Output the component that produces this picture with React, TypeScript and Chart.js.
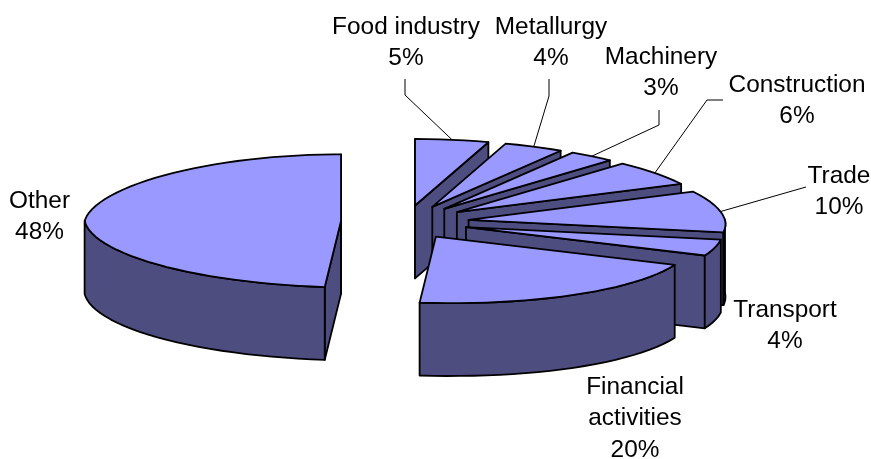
import React, { useEffect, useRef } from "react";
import { Chart, registerables } from "chart.js";

Chart.register(...registerables);

const categories = ["Food industry", "Metallurgy", "Machinery", "Construction", "Trade", "Transport", "Financial activities", "Other"];
const shares = [5, 4, 3, 6, 10, 4, 20, 48];

// label layout: wrapped lines, centre x, first line centre y, optional leader elbow
const labelLines = [["Food industry"], ["Metallurgy"], ["Machinery"], ["Construction"], ["Trade"], ["Transport"], ["Financial", "activities"], ["Other"]];
const labelX = [406, 551, 661, 797, 839, 785, 635, 39.5];
const labelY = [27, 27, 57, 85, 176, 310, 387, 201];
const leaderStart: ([number, number] | null)[] = [[405, 79], [549, 79], [659, 110], [723, 100], [806, 187], null, null, null];
const leaderElbow: ([number, number] | null)[] = [[405, 95], [549, 96], [659, 125], [707, 100], null, null, null, null];

const TOP = "#9999FF";
const WALL = "#4D4D80";
const RX = 1.155; // horizontal ellipse radius / chart radius
const RY = 0.3; // vertical ellipse radius / chart radius
const DEPTH = 0.328; // extrusion / chart radius
const EXPLODE = 0.25;
const STEP = Math.PI / 60;
const FAR_SHRINK = 0.078; // perspective narrowing of the far half
const NEAR_SKEW = 0.072; // sideways lean of the near half / chart radius

const rimX = (t: number, R: number) => {
  const cos = Math.cos(t);
  return R * RX * Math.sin(t) * (1 - FAR_SHRINK * Math.max(0, cos)) + R * NEAR_SKEW * Math.max(0, -cos);
};
const rimY = (t: number, R: number) => -R * RY * Math.cos(t);

const pie3d = {
  id: "pie3d",
  beforeDatasetsDraw(chart: any) {
    const c = chart.ctx;
    const arcs = chart.getDatasetMeta(0).data;
    c.save();
    c.lineWidth = 1.8;
    c.lineJoin = "round";
    c.strokeStyle = "#000";
    arcs.forEach((a: any) => {
      const s = a.startAngle + Math.PI / 2;
      const e = a.endAngle + Math.PI / 2;
      const m = (s + e) / 2;
      const R = a.outerRadius;
      const d = R * DEPTH;
      const ax = a.x + EXPLODE * R * RX * Math.sin(m);
      const ay = a.y - EXPLODE * R * RY * Math.cos(m);
      const P = (t: number): [number, number] => [ax + rimX(t, R), ay + rimY(t, R)];
      const poly = (pts: [number, number][], fill: string) => {
        c.beginPath();
        pts.forEach((p, i) => (i ? c.lineTo(p[0], p[1]) : c.moveTo(p[0], p[1])));
        c.closePath();
        c.fillStyle = fill;
        c.fill();
        c.stroke();
      };
      const down = (p: [number, number]): [number, number] => [p[0], p[1] + d];
      const apex: [number, number] = [ax, ay];
      const sweep = (t0: number, t1: number) => {
        const pts: [number, number][] = [];
        for (let t = t0; t < t1; t += STEP) pts.push(P(t));
        pts.push(P(t1));
        return pts;
      };
      if (Math.sin(s) < 0.01) poly([apex, P(s), down(P(s)), down(apex)], WALL);
      if (Math.sin(e) > -0.01) poly([apex, P(e), down(P(e)), down(apex)], WALL);
      const w0 = Math.max(s, Math.PI / 2);
      const w1 = Math.min(e, (3 * Math.PI) / 2);
      if (w1 > w0) {
        const edge = sweep(w0, w1);
        poly([...edge, ...edge.slice().reverse().map(down)], WALL);
      }
      poly([apex, ...sweep(s, e)], TOP);
    });
    c.restore();
    return false;
  },
  afterDraw(chart: any) {
    const c = chart.ctx;
    const arcs = chart.getDatasetMeta(0).data;
    c.save();
    c.strokeStyle = "#000";
    c.lineWidth = 1;
    arcs.forEach((a: any, i: number) => {
      const st = leaderStart[i];
      if (!st) return;
      const m = (a.startAngle + a.endAngle) / 2 + Math.PI / 2;
      const R = a.outerRadius;
      const ex = a.x + EXPLODE * R * RX * Math.sin(m) + rimX(m, R);
      const ey = a.y - EXPLODE * R * RY * Math.cos(m) + rimY(m, R);
      c.beginPath();
      c.moveTo(st[0], st[1]);
      const el = leaderElbow[i];
      if (el) c.lineTo(el[0], el[1]);
      c.lineTo(ex, ey);
      c.stroke();
    });
    c.fillStyle = "#000";
    c.font = '24.4px "Liberation Sans", Arial, sans-serif';
    c.textAlign = "center";
    c.textBaseline = "middle";
    categories.forEach((_, i) => {
      const lines = [...labelLines[i], shares[i] + "%"];
      lines.forEach((t, j) => c.fillText(t, labelX[i], labelY[i] + j * 31.5));
    });
    c.restore();
  },
};

export default function App() {
  const ref = useRef<HTMLCanvasElement>(null);
  useEffect(() => {
    const chart = new Chart(ref.current!, {
      type: "pie",
      data: {
        labels: categories,
        datasets: [{ data: shares, borderWidth: 0, backgroundColor: TOP }],
      },
      options: {
        responsive: false,
        animation: false,
        rotation: 0,
        layout: { padding: { right: 61, bottom: 15 } },
        plugins: { legend: { display: false }, tooltip: { enabled: false } },
      },
      plugins: [pie3d],
    } as any);
    return () => chart.destroy();
  }, []);
  return (
    <canvas
      ref={ref}
      width={871}
      height={459}
      style={{ position: "fixed", left: 0, top: 0, display: "block", background: "#fff" }}
    />
  );
}
